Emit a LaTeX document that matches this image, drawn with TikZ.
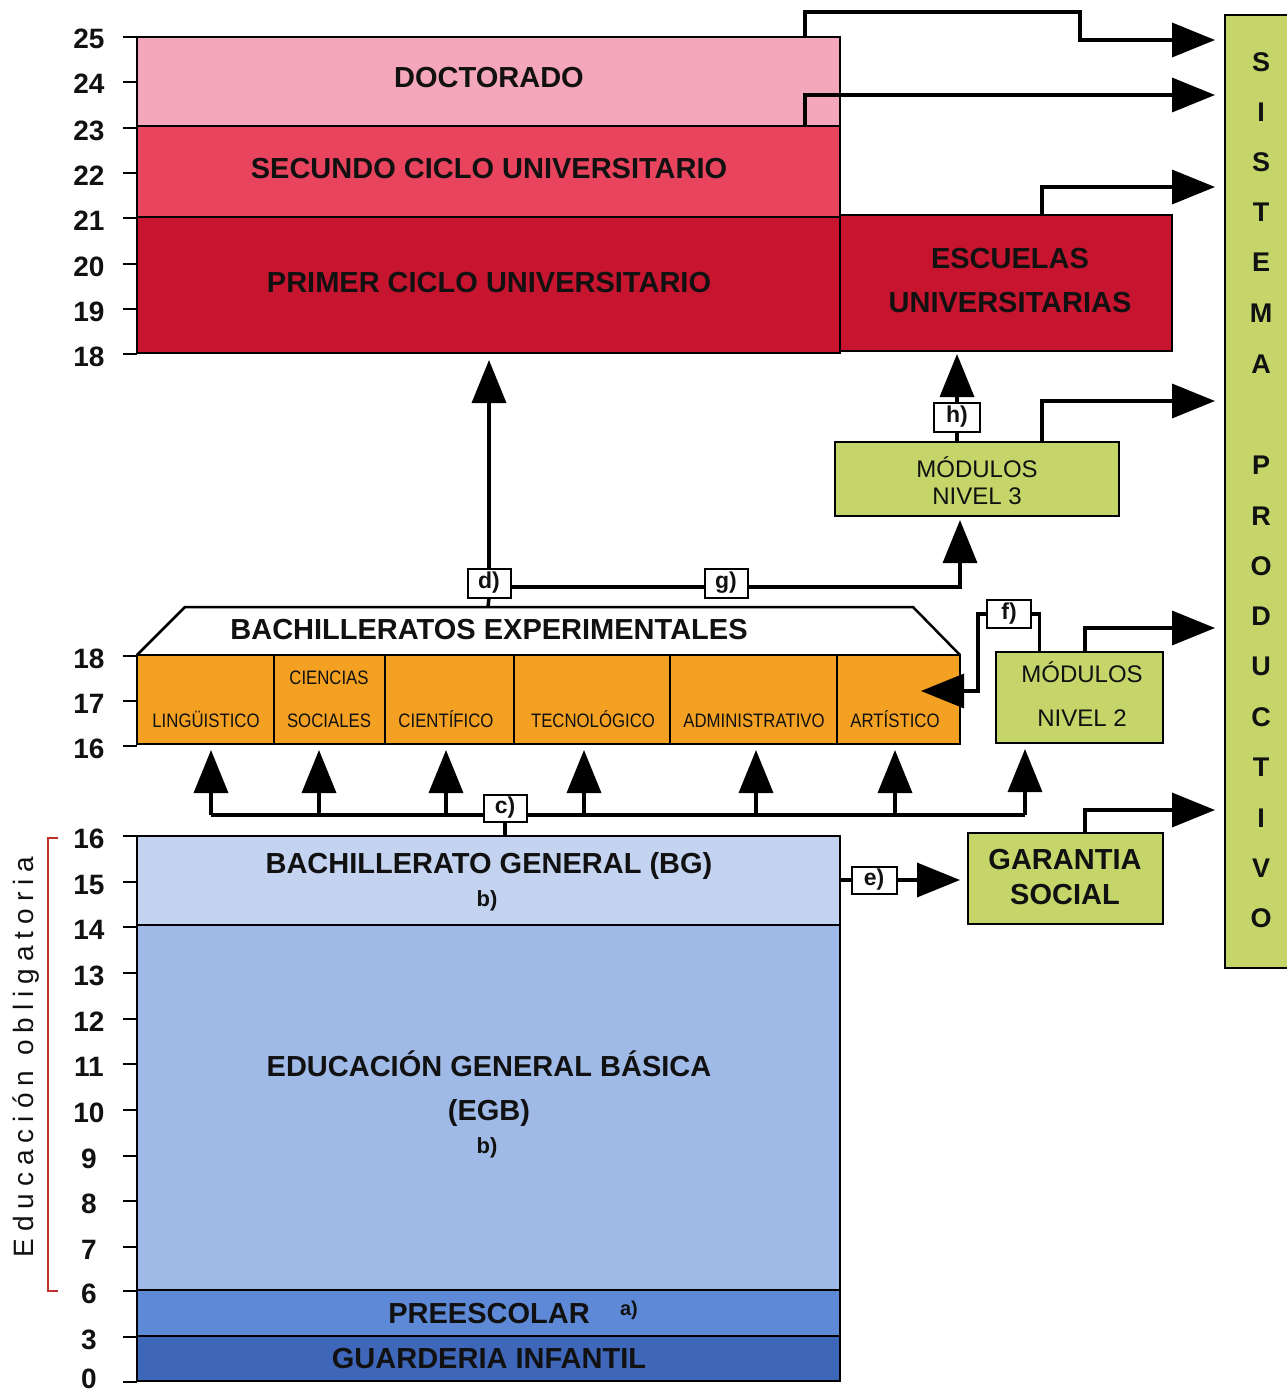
\documentclass[tikz,border=0pt]{standalone}
\usepackage{fontspec}
\setmainfont{Liberation Sans}
\newfontfamily\cond[FakeStretch=0.86]{Liberation Sans}
\newfontfamily\spaced[LetterSpace=25]{Liberation Sans}
\usetikzlibrary{arrows.meta}
\definecolor{docpink}{HTML}{F4A6BA}
\definecolor{secred}{HTML}{E8445E}
\definecolor{primred}{HTML}{C7142F}
\definecolor{bachor}{HTML}{F3A023}
\definecolor{modgreen}{HTML}{C6D56A}
\definecolor{bgblue}{HTML}{C4D3F0}
\definecolor{egbblue}{HTML}{A0BAE8}
\definecolor{preblue}{HTML}{5E89D6}
\definecolor{guablue}{HTML}{3E66B9}
\definecolor{brack}{HTML}{C0302A}
\definecolor{txt}{HTML}{111111}
\newcommand\mkbox[6]{\node[blk,#6,minimum width={(#4-#2)*1pt},minimum height={(#5-#3)*1pt}] (#1) at (#2,#3) {};}
\begin{document}
\begin{tikzpicture}[x=1pt,y=-1pt,
  blk/.style={draw=black,line width=2.5pt,anchor=north west,inner sep=0pt,outer sep=0pt},
  big/.style={font=\bfseries\fontsize{29}{34}\selectfont,text=txt,inner sep=0pt,text height=21pt,text depth=0pt},
  smalltag/.style={font=\bfseries\fontsize{22}{26}\selectfont,text=txt,inner sep=0pt,text height=16pt,text depth=0pt},
  num/.style={font=\bfseries\fontsize{28}{32}\selectfont,text=txt,inner sep=0pt,text height=20pt,text depth=0pt},
  cell/.style={font=\cond\fontsize{19.5}{22}\selectfont,text=txt,inner sep=0pt,text height=14pt,text depth=0pt},
  modt/.style={font=\fontsize{24}{28}\selectfont,text=txt,inner sep=0pt,text height=17pt,text depth=0pt},
  sys/.style={font=\bfseries\fontsize{27}{30}\selectfont,text=txt,inner sep=0pt,text height=19pt,text depth=0pt},
  tag/.style={draw=black,line width=2pt,fill=white,font=\bfseries\fontsize{23}{26}\selectfont,text=txt,minimum width=43pt,minimum height=29pt,inner sep=0pt,outer sep=0pt},
  tick/.style={line width=2pt},
  conn/.style={line width=3.5pt},
  arr/.style={conn,-{Triangle[length=43pt,width=34pt]}}
]
\useasboundingbox (0,0) rectangle (1286,1394);
\fill[white] (0,0) rectangle (1286,1394);

% ---------- university blocks
\mkbox{doc}{137}{37}{840}{126}{fill=docpink}
\mkbox{sec}{137}{126}{840}{217}{fill=secred}
\mkbox{prim}{137}{217}{840}{353}{fill=primred}
\mkbox{esc}{840}{215}{1172}{351}{fill=primred}
\node[big] (tdoc) at (489,77) {DOCTORADO};
\node[big] (tsec) at (489,168) {SECUNDO CICLO UNIVERSITARIO};
\node[big] (tprim) at (489,282) {PRIMER CICLO UNIVERSITARIO};
\node[big] (tesc1) at (1010,258) {ESCUELAS};
\node[big] (tesc2) at (1010,302) {UNIVERSITARIAS};

% ---------- sistema productivo
\mkbox{sis}{1225}{15}{1305}{968}{fill=modgreen}
\foreach \l/\y [count=\i] in {S/62,I/112,S/162,T/212,E/262,M/313,A/364,P/465,R/516,O/566,D/616,U/666,C/717,T/767,I/818,V/868,O/918}
  \node[sys] (sl\i) at (1261,\y) {\l};

% ---------- modulos
\mkbox{mod3}{835}{442}{1119}{516}{fill=modgreen}
\node[modt] (tm3a) at (977,469) {MÓDULOS};
\node[modt] (tm3b) at (977,496) {NIVEL 3};
\mkbox{mod2}{996}{652}{1163}{743}{fill=modgreen}
\node[modt] (tm2a) at (1082,674) {MÓDULOS};
\node[modt] (tm2b) at (1082,718) {NIVEL 2};
\mkbox{gar}{968}{833}{1163}{924}{fill=modgreen}
\node[big] (tgar1) at (1065,859) {GARANTIA};
\node[big] (tgar2) at (1065,894) {SOCIAL};

% ---------- bachilleratos experimentales
\draw[line width=2.5pt] (137,655) -- (185,607) -- (913,607) -- (960,655);
\node[big] (tbach) at (489,629) {BACHILLERATOS EXPERIMENTALES};
\coordinate (bachtop) at (488,607);
\mkbox{ling}{137}{655}{274}{744}{fill=bachor}
\mkbox{cs}{274}{655}{385}{744}{fill=bachor}
\mkbox{cien}{385}{655}{514}{744}{fill=bachor}
\mkbox{tec}{514}{655}{670}{744}{fill=bachor}
\mkbox{adm}{670}{655}{837}{744}{fill=bachor}
\mkbox{art}{837}{655}{960}{744}{fill=bachor}
\node[cell] (tling) at (206,720) {LINGÜISTICO};
\node[cell] (tcs1) at (329,677) {CIENCIAS};
\node[cell] (tcs2) at (329,720) {SOCIALES};
\node[cell] (tcien) at (446,720) {CIENTÍFICO};
\node[cell] (ttec) at (593,720) {TECNOLÓGICO};
\node[cell] (tadm) at (754,720) {ADMINISTRATIVO};
\node[cell] (tart) at (895,720) {ARTÍSTICO};

% ---------- lower blocks
\mkbox{bg}{137}{836}{840}{925}{fill=bgblue}
\mkbox{egb}{137}{925}{840}{1290}{fill=egbblue}
\mkbox{pre}{137}{1290}{840}{1336}{fill=preblue}
\mkbox{gua}{137}{1336}{840}{1381}{fill=guablue}
\node[big] (tbg) at (489,863) {BACHILLERATO GENERAL (BG)};
\node[smalltag] (tbgb) at (487,898) {b)};
\node[big] (tegb1) at (489,1066) {EDUCACIÓN GENERAL BÁSICA};
\node[big] (tegb2) at (489,1110) {(EGB)};
\node[smalltag] (tegbb) at (487,1145) {b)};
\node[big] (tpre) at (489,1313) {PREESCOLAR};
\node[font=\bfseries\fontsize{20}{22}\selectfont,text=txt,inner sep=0pt,text height=14pt,text depth=0pt] (tprea) at (629,1308) {a)};
\node[big] (tgua) at (489,1358) {GUARDERIA INFANTIL};

% ---------- age axes
\foreach \a/\y in {25/37,24/82,23/128,22/173,21/218,20/264,19/309,18/354}
  {\draw[tick] (123,\y) -- (137,\y); \node[num] (ta\a) at (89,\y+2) {\a};}
\foreach \a/\y in {18/656,17/701,16/746}
  {\draw[tick] (123,\y) -- (137,\y); \node[num] (tb\a) at (89,\y+2) {\a};}
\foreach \a/\y in {16/836,15/882,14/927,13/973,12/1019,11/1064,10/1110,9/1156,8/1201,7/1247,6/1291,3/1337}
  {\draw[tick] (123,\y) -- (137,\y); \node[num] (tc\a) at (89,\y+2) {\a};}
\draw[tick] (123,1382) -- (137,1382);
\node[num] (tc0) at (89,1378) {0};

% ---------- educacion obligatoria
\draw[brack,line width=2pt] (58,838) -- (48,838) -- (48,1291) -- (58,1291);
\node[rotate=90,font=\spaced\fontsize{28}{32}\selectfont,text=txt,inner sep=0pt] (edob) at (26,1057) {Educación obligatoria};

% ---------- tags
\node[tag] (d) at (489,583) {d)};
\node[tag] (g) at (726,583) {g)};
\node[tag,minimum width=46pt] (h) at (957,417) {h)};
\node[tag,minimum width=44pt,minimum height=28pt] (f) at (1009,614) {f)};
\node[tag,minimum height=27pt] (c) at (505,808) {c)};
\node[tag,minimum width=45pt,minimum height=27pt] (e) at (874,880) {e)};

% ---------- arrow end points
\coordinate (s1) at (1215,40);
\coordinate (s2) at (1215,95);
\coordinate (s3) at (1215,187);
\coordinate (s4) at (1215,401);
\coordinate (s5) at (1215,628);
\coordinate (s6) at (1215,810);
\coordinate (ftip) at (921,691);
\coordinate (c1) at (211,815);
\coordinate (c2) at (319,815);
\coordinate (c3) at (446,815);
\coordinate (c4) at (584,815);
\coordinate (c5) at (756,815);
\coordinate (c6) at (895,815);
\coordinate (c7) at (1025,815);

% ---------- connectors to sistema productivo
\draw[arr] ([xshift=668pt]doc.north west) -- ++(0,-25) -| (1080,40) -- (s1);
\draw[arr] ([xshift=668pt]sec.north west) |- (s2);
\draw[arr] ([xshift=202pt]esc.north west) |- (s3);
\draw[arr] ([xshift=207pt]mod3.north west) |- (s4);
\draw[arr] ([xshift=89pt]mod2.north west) |- (s5);
\draw[arr] ([xshift=117pt]gar.north west) |- (s6);

% ---------- d, g, h
\draw[conn] (bachtop) -- (d.south);
\draw[arr,shorten >=7pt] (d.north) -- (d.north |- prim.south);
\draw[conn] ([yshift=-4pt]d.east) -- ([yshift=-4pt]g.west);
\draw[arr,shorten >=4pt] ([yshift=-4pt]g.east) -| ([xshift=-17pt]mod3.south);
\draw[conn] (h.south) -- (h.south |- mod3.north);
\draw[arr,shorten >=3pt] (h.north) -- (h.north |- esc.south);

% ---------- c
\draw[conn] (c1) -- (c1 -| c.west);
\draw[conn] (c7 -| c.east) -- (c7);
\draw[conn] (c.south) -- (c.south |- bg.north);
\draw[arr,shorten >=6pt] (c1) -- (c1 |- ling.south);
\draw[arr,shorten >=6pt] (c2) -- (c2 |- cs.south);
\draw[arr,shorten >=6pt] (c3) -- (c3 |- cien.south);
\draw[arr,shorten >=6pt] (c4) -- (c4 |- tec.south);
\draw[arr,shorten >=6pt] (c5) -- (c5 |- adm.south);
\draw[arr,shorten >=6pt] (c6) -- (c6 |- art.south);
\draw[arr,shorten >=6pt] (c7) -- (c7 |- mod2.south);

% ---------- e
\draw[conn] (e.west -| bg.east) -- (e.west);
\draw[arr,shorten >=8pt] (e.east) -- (e.east -| gar.west);

% ---------- f
\draw[conn] (f.east) -| ([xshift=-40pt]mod2.north);
\draw[arr] (f.west) -- ++(-9,0) |- (ftip);
\end{tikzpicture}
\end{document}
